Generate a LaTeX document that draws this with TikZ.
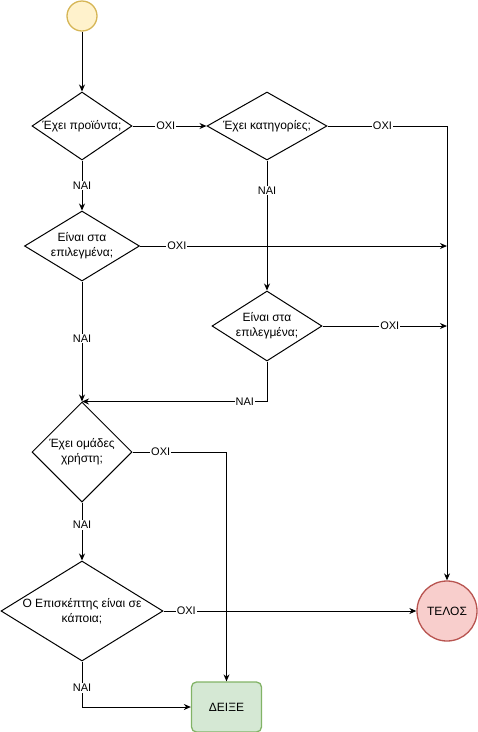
\documentclass[tikz,border=0pt]{standalone}
\usepackage{fontspec}
\setmainfont{Liberation Sans}
\usetikzlibrary{shapes.geometric,arrows.meta}
\definecolor{startfill}{HTML}{FFF2CC}
\definecolor{startline}{HTML}{D6B656}
\definecolor{endfill}{HTML}{F8CECC}
\definecolor{endline}{HTML}{B85450}
\definecolor{showfill}{HTML}{D5E8D4}
\definecolor{showline}{HTML}{82B366}
\begin{document}
\begin{tikzpicture}[x=1pt,y=-1pt,line width=1pt,
	>={Stealth[length=7pt,width=6pt]},
	decision/.style={draw,diamond,inner sep=0pt},
	qtext/.style={align=center,inner sep=0pt,font=\fontsize{12}{15}\selectfont},
	elabel/.style={fill=white,inner sep=1pt,font=\fontsize{11}{13}\selectfont}]
			\useasboundingbox (0,0) rectangle (478,732);
			\node[circle,draw=startline,fill=startfill,line width=1.3pt,minimum size=30pt,inner sep=0pt] (st) at (82,16) {};
			\node[decision,minimum width=100pt,minimum height=68pt] (d1) at (82,126) {};
			\node[qtext] (d1t) at (d1) {Έχει προϊόντα;};
			\node[decision,minimum width=120pt,minimum height=68pt] (d2) at (267,126) {};
			\node[qtext] (d2t) at (d2) {Έχει κατηγορίες;};
			\node[decision,minimum width=115pt,minimum height=70pt] (d3) at (82,246) {};
			\node[qtext] (d3t) at (d3) {Είναι στα\\επιλεγμένα;};
			\node[decision,minimum width=110pt,minimum height=70pt] (d4) at (267,326) {};
			\node[qtext] (d4t) at (d4) {Είναι στα\\επιλεγμένα;};
			\node[decision,minimum width=100pt,minimum height=100pt] (d5) at (82,452) {};
			\node[qtext] (d5t) at (d5) {Έχει ομάδες\\χρήστη;};
			\node[decision,minimum width=162pt,minimum height=100pt] (d6) at (82,611) {};
			\node[qtext] (d6t) at (d6) {Ο Επισκέπτης είναι σε\\κάποια;};
			\node[circle,draw=endline,fill=endfill,line width=1.3pt,minimum size=60pt,inner sep=0pt,font=\fontsize{12}{15}\selectfont] (te) at (447,611) {ΤΕΛΟΣ};
			\node[draw=showline,fill=showfill,line width=1.3pt,rounded corners=5pt,minimum width=70pt,minimum height=50pt,font=\fontsize{12}{15}\selectfont] (dx) at (226.5,707) {ΔΕΙΞΕ};
			% yes / no branches
			\draw[->] (st) -- (d1);
			\draw[->] (d1) -- node[elabel,pos=0.45] (n1) {ΟΧΙ} (d2);
			\draw[->] (d1) -- node[elabel] (y1) {ΝΑΙ} (d3);
			\draw[->] (d2.east) -| node[elabel,pos=0.23] (n2) {ΟΧΙ} (te.north);
			\draw[->] (d2) -- node[elabel,pos=0.23] (y2) {ΝΑΙ} (d4);
			\draw[->] (d3.east) -- node[elabel,pos=0.12] (n3) {ΟΧΙ} (d3.east -| te);
			\draw[->] (d4.east) -- node[elabel,pos=0.54] (n4) {ΟΧΙ} (d4.east -| te);
			\draw[->] (d3) -- node[elabel,pos=0.475] (y3) {ΝΑΙ} (d5);
			\draw[->] (d4.south) |- node[elabel,pos=0.56] (y4) {ΝΑΙ} (d5.north);
			\draw[->] (d5.east) -| node[elabel,pos=0.15] (n5) {ΟΧΙ} (dx.north);
			\draw[->] (d5) -- node[elabel,pos=0.39] (y5) {ΝΑΙ} (d6);
			\draw[->] (d6.east) -- node[elabel,pos=0.09] (n6) {ΟΧΙ} (te.west);
			\draw[->] (d6.south) |- node[elabel,pos=0.29] (y6) {ΝΑΙ} (dx.west);
		\end{tikzpicture}
\end{document}
